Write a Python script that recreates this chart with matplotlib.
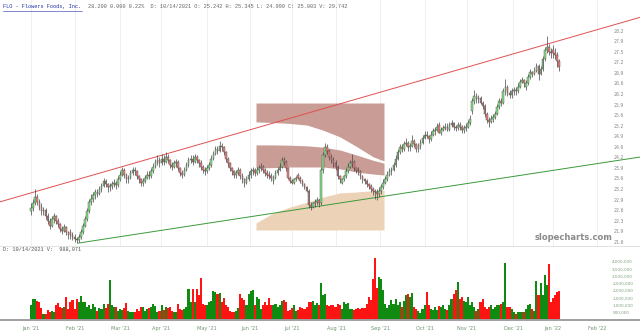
import matplotlib
matplotlib.use("Agg")
import matplotlib.pyplot as plt
import numpy as np

# daily OHLC, FLO, Jan 4 2021 .. Jan 6 2022 (trading-day index on x)
OPEN = [
    22.55, 22.65, 22.80, 23.00, 22.85, 22.70, 22.55, 22.60, 22.40, 22.25, 22.10, 22.30, 22.40, 22.25, 22.15, 22.00, 21.95, 22.05, 21.90,
    21.90, 21.80, 21.75, 21.70, 21.65, 21.75, 21.90, 22.10, 22.30, 22.55, 22.85, 22.95, 23.05, 23.15, 23.10, 23.25, 23.35, 23.50, 23.40,
    23.30, 23.35, 23.40, 23.45, 23.38, 23.55, 23.70, 23.85, 23.70, 23.55, 23.60, 23.75, 23.85, 23.80, 23.65, 23.55, 23.45, 23.50, 23.60, 23.70, 23.65, 23.80, 23.95,
    24.10, 24.15, 24.05, 24.20, 24.10, 24.25, 24.15, 24.00, 23.95, 24.05, 24.10, 23.90, 23.75, 23.70, 23.85, 24.00, 24.15, 24.20, 24.10, 24.25, 24.15,
    24.05, 23.95, 23.85, 23.80, 23.90, 24.00, 24.20, 24.35, 24.50, 24.45, 24.60, 24.55, 24.40, 24.20, 24.05, 23.90, 23.80, 23.70, 23.75, 23.85,
    23.65, 23.55, 23.45, 23.55, 23.70, 23.80, 23.85, 23.75, 23.85, 23.90, 23.95, 23.85, 23.75, 23.70, 23.65, 23.50, 23.60, 23.75, 23.85, 23.95, 24.15, 24.10,
    23.90, 23.60, 23.50, 23.45, 23.55, 23.70, 23.60, 23.50, 23.40, 23.30, 23.20, 22.75, 22.70, 22.80, 22.85, 22.90, 22.80, 23.85, 24.30, 24.55, 24.45,
    24.25, 24.15, 24.05, 23.95, 23.65, 23.45, 23.55, 23.65, 23.80, 23.95, 24.05, 24.10, 23.90, 23.85, 23.80, 23.65, 23.55, 23.50, 23.40, 23.35, 23.25, 23.20,
    23.15, 23.10, 23.20, 23.30, 23.45, 23.55, 23.70, 23.80, 23.85, 24.00, 24.20, 24.40, 24.55, 24.50, 24.65, 24.70, 24.55, 24.60, 24.75, 24.65, 24.50,
    24.60, 24.70, 24.85, 24.95, 24.90, 24.80, 24.95, 25.05, 25.10, 25.242, 25.00, 25.10, 25.15, 25.20, 25.10, 25.25, 25.30, 25.20, 25.15, 25.25, 25.20,
    25.10, 25.15, 25.20, 25.30, 25.70, 26.00, 26.15, 26.05, 26.10, 25.95, 25.85, 25.60, 25.40, 25.35, 25.45, 25.50, 25.60, 25.80, 26.00, 25.95, 26.30,
    26.45, 26.25, 26.20, 26.30, 26.35, 26.30, 26.45, 26.60, 26.65, 26.45, 26.55, 26.75, 26.90, 26.85, 26.95, 27.10, 26.85, 27.00, 27.30, 27.60, 27.70, 27.55,
    27.60, 27.50, 27.45, 27.25,
]
HIGH = [
    22.80, 22.95, 23.25, 23.10, 22.95, 22.80, 22.70, 22.65, 22.50, 22.35, 22.40, 22.50, 22.45, 22.35, 22.20, 22.10, 22.15, 22.10, 21.95,
    22.00, 21.90, 21.85, 21.75, 21.85, 22.00, 22.20, 22.40, 22.65, 22.95, 23.10, 23.15, 23.25, 23.25, 23.35, 23.45, 23.60, 23.55, 23.45,
    23.45, 23.50, 23.55, 23.50, 23.65, 23.80, 23.95, 23.90, 23.75, 23.70, 23.85, 23.95, 23.95, 23.85, 23.70, 23.60, 23.60, 23.70, 23.80, 23.80, 23.90, 24.05, 24.20,
    24.30, 24.25, 24.35, 24.30, 24.40, 24.35, 24.20, 24.10, 24.15, 24.20, 24.15, 23.95, 23.85, 23.95, 24.10, 24.25, 24.30, 24.30, 24.35, 24.30, 24.20,
    24.15, 24.00, 23.95, 24.00, 24.10, 24.30, 24.45, 24.60, 24.60, 24.75, 24.70, 24.60, 24.45, 24.25, 24.10, 23.95, 23.85, 23.85, 23.95, 23.90,
    23.75, 23.60, 23.65, 23.80, 23.90, 23.95, 23.90, 23.95, 24.00, 24.05, 24.00, 23.90, 23.85, 23.80, 23.75, 23.70, 23.85, 23.95, 24.05, 24.25, 24.25, 24.15,
    23.95, 23.65, 23.55, 23.60, 23.65, 23.75, 23.65, 23.55, 23.45, 23.35, 23.25, 22.85, 22.85, 22.95, 23.00, 22.95, 23.95, 24.40, 24.70, 24.65, 24.50,
    24.35, 24.25, 24.15, 24.00, 23.70, 23.60, 23.70, 23.90, 24.05, 24.15, 24.35, 24.15, 23.95, 23.95, 23.85, 23.70, 23.60, 23.55, 23.45, 23.40, 23.30, 23.25,
    23.25, 23.30, 23.40, 23.55, 23.65, 23.80, 23.90, 23.95, 24.10, 24.30, 24.50, 24.65, 24.65, 24.75, 24.85, 24.75, 24.70, 24.95, 24.80, 24.70, 24.70,
    24.80, 24.95, 25.05, 25.05, 24.95, 25.05, 25.15, 25.20, 25.30, 25.345, 25.20, 25.25, 25.30, 25.30, 25.35, 25.40, 25.35, 25.25, 25.35, 25.35, 25.25,
    25.25, 25.30, 25.40, 25.55, 26.10, 26.35, 26.25, 26.20, 26.15, 26.00, 25.90, 25.65, 25.50, 25.55, 25.60, 25.70, 25.90, 26.10, 26.10, 26.40, 26.70,
    26.50, 26.35, 26.40, 26.45, 26.45, 26.55, 26.70, 26.75, 26.70, 26.65, 26.85, 27.00, 26.95, 27.05, 27.20, 27.15, 27.10, 27.40, 27.70, 28.05, 27.80, 27.65,
    27.75, 27.65, 27.55, 27.30,
]
LOW = [
    22.45, 22.55, 22.75, 22.75, 22.60, 22.45, 22.45, 22.30, 22.15, 22.00, 22.05, 22.20, 22.15, 22.05, 21.90, 21.85, 21.90, 21.80, 21.70,
    21.70, 21.65, 21.60, 21.55, 21.60, 21.70, 21.85, 22.05, 22.25, 22.50, 22.75, 22.85, 22.95, 23.00, 23.05, 23.15, 23.30, 23.30, 23.15,
    23.20, 23.25, 23.30, 23.25, 23.30, 23.50, 23.65, 23.60, 23.45, 23.45, 23.55, 23.70, 23.70, 23.55, 23.45, 23.35, 23.35, 23.45, 23.55, 23.55, 23.60, 23.75, 23.90,
    24.00, 23.95, 24.00, 24.00, 24.05, 24.05, 23.90, 23.85, 23.90, 23.95, 23.80, 23.65, 23.60, 23.65, 23.80, 23.95, 24.05, 24.00, 24.05, 24.05, 23.95,
    23.85, 23.75, 23.70, 23.75, 23.85, 23.95, 24.15, 24.30, 24.35, 24.40, 24.45, 24.30, 24.10, 23.95, 23.80, 23.70, 23.60, 23.60, 23.70, 23.55,
    23.45, 23.30, 23.40, 23.50, 23.60, 23.70, 23.65, 23.70, 23.75, 23.80, 23.75, 23.65, 23.60, 23.55, 23.50, 23.40, 23.55, 23.70, 23.80, 23.90, 24.00, 23.80,
    23.55, 23.45, 23.40, 23.40, 23.50, 23.55, 23.45, 23.35, 23.25, 23.15, 22.65, 22.60, 22.65, 22.70, 22.75, 22.70, 22.75, 23.75, 24.25, 24.35, 24.15,
    24.05, 23.95, 23.85, 23.55, 23.45, 23.40, 23.50, 23.60, 23.75, 23.90, 23.95, 23.80, 23.75, 23.70, 23.55, 23.45, 23.40, 23.30, 23.25, 23.15, 23.05, 22.95,
    22.90, 23.00, 23.10, 23.25, 23.40, 23.50, 23.65, 23.70, 23.80, 23.95, 24.15, 24.35, 24.40, 24.45, 24.60, 24.45, 24.45, 24.55, 24.55, 24.40, 24.40,
    24.50, 24.65, 24.80, 24.85, 24.70, 24.75, 24.90, 24.95, 25.05, 24.999, 24.95, 25.05, 25.10, 25.05, 25.05, 25.20, 25.10, 25.05, 25.10, 25.10, 25.00,
    25.00, 25.05, 25.15, 25.25, 25.60, 25.90, 25.95, 25.95, 25.90, 25.75, 25.50, 25.30, 25.20, 25.30, 25.35, 25.45, 25.55, 25.75, 25.85, 25.90, 26.20,
    26.15, 26.10, 26.10, 26.20, 26.20, 26.25, 26.40, 26.55, 26.45, 26.35, 26.50, 26.70, 26.75, 26.80, 26.90, 26.65, 26.80, 26.95, 27.25, 27.50, 27.45, 27.35,
    27.35, 27.30, 27.05, 26.95,
]
CLOSE = [
    22.65, 22.80, 23.00, 22.85, 22.70, 22.55, 22.60, 22.40, 22.25, 22.10, 22.30, 22.40, 22.25, 22.15, 22.00, 21.95, 22.05, 21.90, 21.80,
    21.80, 21.75, 21.70, 21.65, 21.75, 21.90, 22.10, 22.30, 22.55, 22.85, 22.95, 23.05, 23.15, 23.10, 23.25, 23.35, 23.50, 23.40, 23.30,
    23.35, 23.40, 23.45, 23.38, 23.55, 23.70, 23.85, 23.70, 23.55, 23.60, 23.75, 23.85, 23.80, 23.65, 23.55, 23.45, 23.50, 23.60, 23.70, 23.65, 23.80, 23.95, 24.10,
    24.15, 24.05, 24.20, 24.10, 24.25, 24.15, 24.00, 23.95, 24.05, 24.10, 23.90, 23.75, 23.70, 23.85, 24.00, 24.15, 24.20, 24.10, 24.25, 24.15, 24.05,
    23.95, 23.85, 23.80, 23.90, 24.00, 24.20, 24.35, 24.50, 24.45, 24.60, 24.55, 24.40, 24.20, 24.05, 23.90, 23.80, 23.70, 23.75, 23.85, 23.65,
    23.55, 23.45, 23.55, 23.70, 23.80, 23.85, 23.75, 23.85, 23.90, 23.95, 23.85, 23.75, 23.70, 23.65, 23.60, 23.60, 23.75, 23.85, 23.95, 24.15, 24.10, 23.90,
    23.60, 23.50, 23.45, 23.55, 23.60, 23.60, 23.50, 23.40, 23.30, 23.20, 22.75, 22.70, 22.80, 22.85, 22.90, 22.80, 23.85, 24.30, 24.55, 24.45, 24.25,
    24.15, 24.05, 23.95, 23.65, 23.55, 23.55, 23.65, 23.80, 23.95, 24.05, 24.10, 23.90, 23.85, 23.80, 23.65, 23.55, 23.50, 23.40, 23.35, 23.25, 23.20, 23.15,
    23.10, 23.20, 23.30, 23.45, 23.55, 23.70, 23.80, 23.85, 24.00, 24.20, 24.40, 24.55, 24.50, 24.65, 24.70, 24.55, 24.60, 24.75, 24.65, 24.50, 24.60,
    24.70, 24.85, 24.95, 24.90, 24.80, 24.95, 25.05, 25.10, 25.20, 25.003, 25.10, 25.15, 25.20, 25.10, 25.25, 25.30, 25.20, 25.15, 25.25, 25.20, 25.10,
    25.15, 25.20, 25.30, 25.45, 26.00, 26.15, 26.05, 26.10, 25.95, 25.85, 25.60, 25.40, 25.35, 25.45, 25.50, 25.60, 25.80, 26.00, 25.95, 26.30, 26.45,
    26.25, 26.20, 26.30, 26.35, 26.30, 26.45, 26.60, 26.65, 26.55, 26.55, 26.75, 26.90, 26.85, 26.95, 27.10, 26.85, 27.00, 27.30, 27.60, 27.70, 27.55, 27.50,
    27.50, 27.45, 27.25, 27.05,
]
# volume, thousands of shares
VOLUME = [
    1040, 1460, 1460, 1340, 1230, 810, 420, 420, 690, 580, 650, 530, 1000, 1160, 880, 810, 880, 1570, 760,
    1230, 1390, 760, 1460, 1230, 1640, 1270, 1230, 880, 1000, 760, 1110, 880, 650, 810, 760, 1110, 810, 1110,
    2730, 1000, 880, 930, 650, 760, 720, 810, 1160, 650, 580, 530, 580, 760, 650, 880, 880, 650, 760, 810, 880, 1110, 950,
    530, 650, 1000, 720, 880, 810, 880, 650, 580, 580, 1110, 760, 690, 760, 880, 2110, 1230, 2110, 1270, 2110, 1690,
    2890, 1110, 1040, 1000, 1230, 1340, 1970, 1920, 1810, 1880, 1230, 1500, 1000, 880, 650, 580, 580, 650, 810, 1760,
    1500, 1410, 1000, 1810, 1970, 2080, 1000, 1570, 1460, 760, 1040, 1270, 1000, 1500, 1040, 1000, 1110, 880, 1040, 1340, 1410, 1230,
    650, 720, 810, 1040, 650, 720, 880, 810, 760, 880, 1230, 1230, 1340, 1040, 1160, 1000, 2550, 1740, 1810, 1040, 950,
    1040, 1000, 880, 1110, 1040, 760, 1230, 1110, 1160, 760, 760, 720, 760, 810, 760, 810, 810, 1110, 1570, 1410, 2850, 4240,
    2220, 2960, 2850, 2040, 1110, 810, 1000, 1390, 1110, 1460, 1000, 1230, 880, 1340, 1690, 1810, 1570, 1880, 880, 760, 650,
    490, 760, 1000, 1920, 1000, 760, 720, 880, 720, 988, 880, 1000, 760, 720, 1040, 1460, 1810, 2040, 2620, 1460, 1570,
    1340, 1230, 1570, 1000, 1230, 880, 650, 760, 1230, 1460, 880, 760, 880, 1000, 760, 880, 1000, 1040, 1110, 1230, 3960,
    880, 880, 760, 530, 420, 580, 530, 580, 580, 760, 1000, 1110, 760, 650, 2660, 1690, 2570, 1690, 3130, 2430, 3890, 1230,
    1500, 1690, 1920, 1970,
]

MONTH_START = [0, 19, 38, 61, 82, 102, 124, 145, 167, 188, 209, 230, 252, 272]
LABEL_POS = [0, 21.2, 43, 62.8, 85, 105.8, 126, 147.3, 168.5, 190.3, 210.5, 232.7, 252, 273.3]
MONTH_LABELS = ["Jan '21", "Feb '21", "Mar '21", "Apr '21", "May '21", "Jun '21", "Jul '21",
                "Aug '21", "Sep '21", "Oct '21", "Nov '21", "Dec '21", "Jan '22", "Feb '22"]
PRICE_TICKS = [21.60, 21.93, 22.26, 22.59, 22.92, 23.25, 23.58, 23.91, 24.24, 24.57, 24.90,
               25.23, 25.56, 25.89, 26.22, 26.55, 26.88, 27.21, 27.54, 27.87, 28.20]
VOL_TICKS = [500, 1000, 1500, 2000, 2500, 3000, 3500, 4000]

# drawn trend lines (index, price)
RED_LINE = ([-15, 300], [22.85, 28.73])
GREEN_LINE = ([22.7, 300], [21.56, 24.31])

# hand-drawn overlay shape
SHAPE_X = [108.6, 116.9, 125.1, 133.3, 141.0, 149.2, 157.4, 165.1, 170.4]
SHAPE_TOP = 25.94
BAND1_LOW = [25.35, 25.33, 25.30, 25.25, 25.09, 24.88, 24.57, 24.26, 24.13]
BAND2_HIGH = [24.63, 24.63, 24.62, 24.60, 24.56, 24.47, 24.31, 24.15, 24.06]
BAND2_LOW = [23.91, 23.92, 23.94, 23.94, 23.94, 23.88, 23.78, 23.72, 23.69]
TAN_HIGH = [22.19, 22.50, 22.69, 22.84, 23.00, 23.13, 23.16, 23.20, 23.22]
SHAPE_BOTTOM = 21.97

UP_BODY, DOWN_BODY = "#86e086", "#ec7f7f"
UP_VOL, DOWN_VOL = "#118a11", "#ff1414"
ROSE, TAN = "#c99c96", "#ecd3b8"
MONO = "Liberation Mono"


def main():
    o = np.array(OPEN)
    h = np.array(HIGH)
    l = np.array(LOW)
    c = np.array(CLOSE)
    v = np.array(VOLUME) * 1000
    x = np.arange(len(c))
    up = c >= o

    fig = plt.figure(figsize=(6.4, 3.34), dpi=100)
    ax = fig.add_axes([0, 0.2635, 1, 0.7365])
    axv = fig.add_axes([0, 0.0419, 1, 0.1916], sharex=ax)
    xlim = (-15, 294)

    # month grid
    for m in LABEL_POS:
        ax.axvline(m, color="#ececec", lw=0.6, zorder=0)

    # overlay shape
    sx = np.array(SHAPE_X)
    ax.fill_between(sx, BAND1_LOW, SHAPE_TOP, color=ROSE, lw=0, zorder=1)
    ax.fill_between(sx, BAND2_LOW, BAND2_HIGH, color=ROSE, lw=0, zorder=1)
    ax.fill_between(sx, SHAPE_BOTTOM, TAN_HIGH, color=TAN, lw=0, zorder=1)

    # trend lines
    ax.plot(*RED_LINE, color="#e05050", lw=0.7, zorder=2)
    ax.plot(*GREEN_LINE, color="#3a9a3a", lw=0.7, zorder=2)

    # candles
    ax.vlines(x, l, h, color="#444444", lw=0.5, zorder=3)
    ax.bar(x, np.maximum(np.abs(c - o), 0.02), bottom=np.minimum(o, c), width=0.8,
           color=np.where(up, UP_BODY, DOWN_BODY), edgecolor="#4a4a4a", lw=0.3, zorder=4)

    ax.set_xlim(*xlim)
    ax.set_ylim(21.47, 29.16)
    ax.yaxis.tick_right()
    ax.set_yticks(PRICE_TICKS, [f"{t:.1f}" for t in PRICE_TICKS])
    ax.tick_params(axis="y", length=0, pad=-19, labelsize=3.3, labelcolor="#888888")
    ax.tick_params(axis="x", length=0, labelbottom=False)
    for s in ["top", "left", "right"]:
        ax.spines[s].set_visible(False)
    ax.spines["bottom"].set_color("#dddddd")
    ax.spines["bottom"].set_linewidth(0.6)

    # volume
    axv.bar(x, v, width=1.0, color=np.where(up, UP_VOL, DOWN_VOL), lw=0)
    axv.set_ylim(0, 4.41e6)
    axv.yaxis.tick_right()
    axv.set_yticks([t * 1000 for t in VOL_TICKS], [f"{t * 1000:,}" for t in VOL_TICKS])
    axv.tick_params(axis="y", length=0, pad=-20, labelsize=3.0, labelcolor="#7fa07f")
    axv.set_xticks(LABEL_POS, MONTH_LABELS)
    axv.tick_params(axis="x", length=0, pad=4, labelsize=3.6, labelcolor="#6f956f")
    for s in ["top", "left", "right"]:
        axv.spines[s].set_visible(False)
    axv.spines["bottom"].set_color("#a0a0a0")
    axv.spines["bottom"].set_linewidth(1.4)
    axv.set_xlim(*xlim)

    # header and labels
    fig.text(0.005, 0.982, "FLO - Flowers Foods, Inc.", family=MONO, fontsize=3.8,
             color="#2233aa", va="center", ha="left")
    fig.add_artist(plt.Line2D([0.005, 0.128], [0.966, 0.966], color="#2233aa", lw=0.4))
    fig.text(0.137, 0.982,
             "28.200 0.000 0.22%  D: 10/14/2021 O: 25.242 H: 25.345 L: 24.999 C: 25.003 V: 29.742",
             family=MONO, fontsize=3.8, color="#666666", va="center", ha="left")
    fig.text(0.005, 0.252, "D: 10/14/2021 V:  988,071", family=MONO, fontsize=3.8,
             color="#555555", va="center", ha="left")
    fig.text(0.957, 0.29, "slopecharts.com", fontsize=6.0, fontweight="bold",
             color="#8a8a8a", va="center", ha="right")

    fig.savefig("out.png", dpi=100)
    plt.close(fig)


if __name__ == "__main__":
    main()
